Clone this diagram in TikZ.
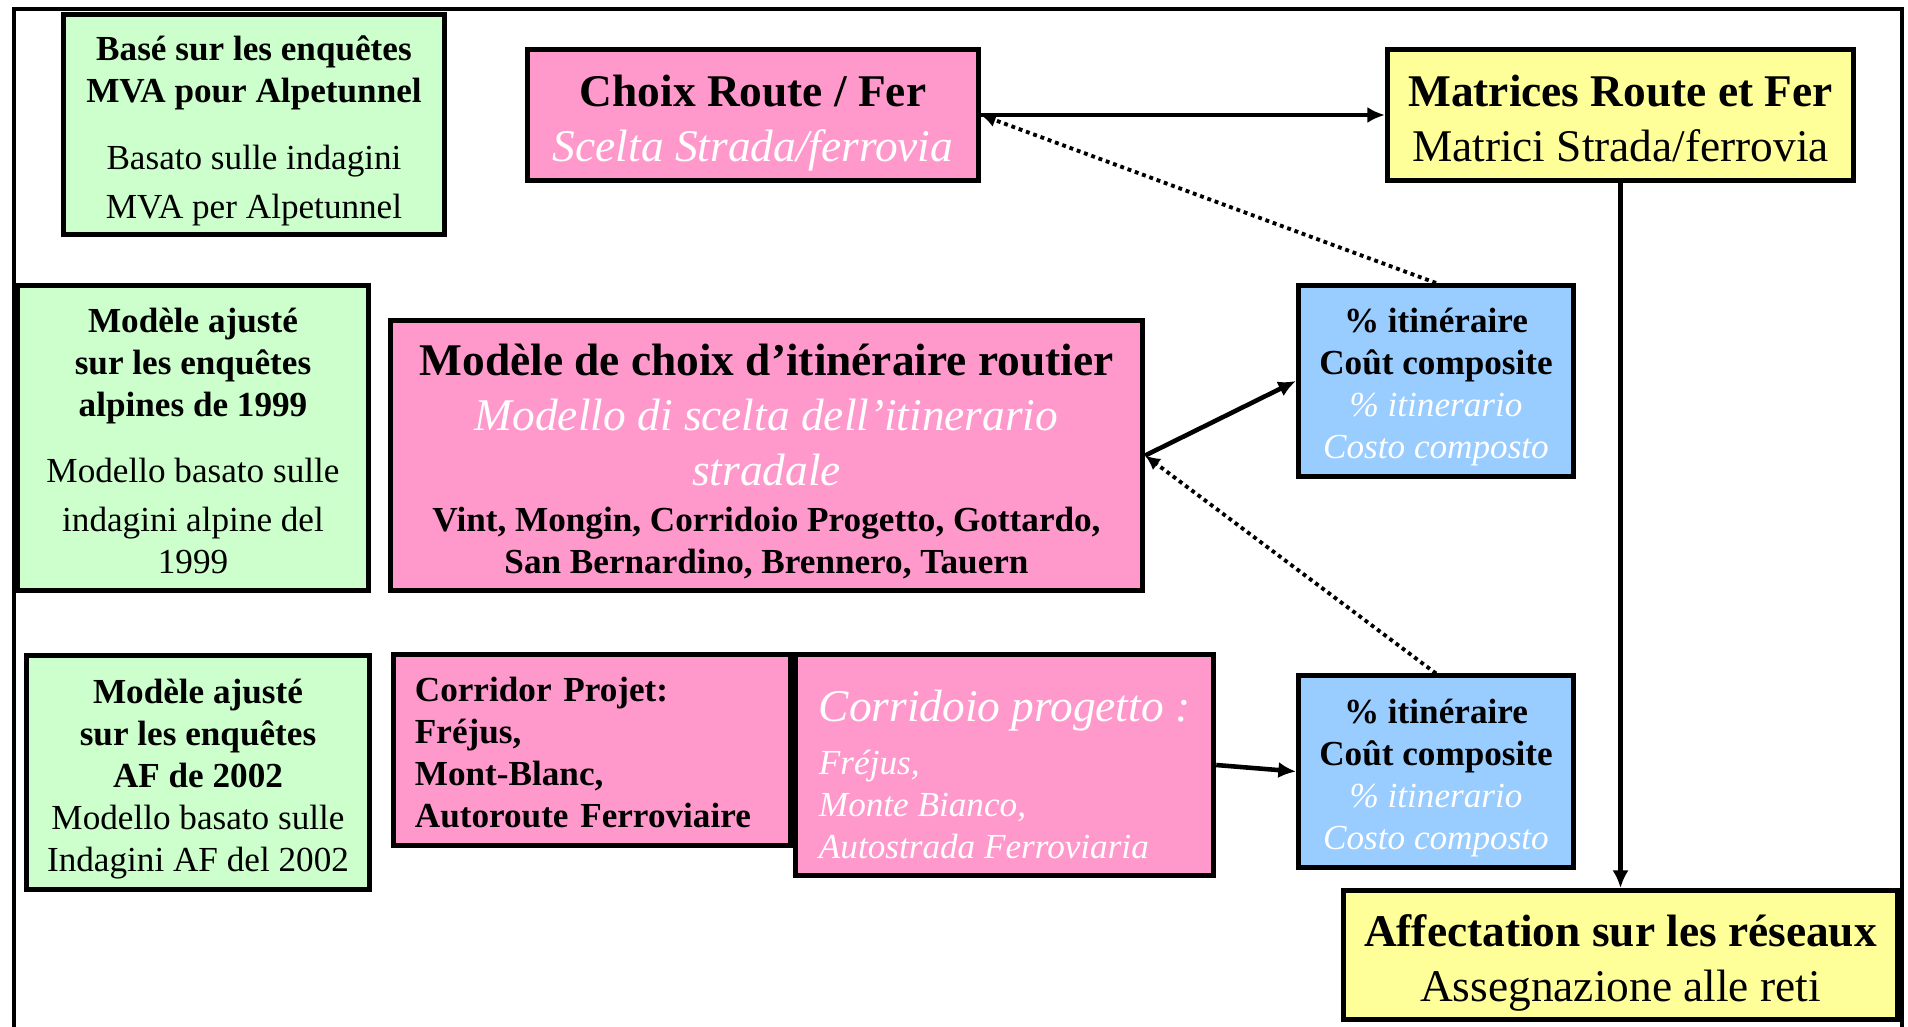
\documentclass[tikz,border=0pt]{standalone}
\usepackage{fontspec}
\setmainfont{Liberation Serif}
\usetikzlibrary{arrows.meta,positioning}

\definecolor{vertclair}{RGB}{204,255,204}
\definecolor{rose}{RGB}{255,153,204}
\definecolor{jaune}{RGB}{255,255,153}
\definecolor{bleu}{RGB}{153,204,255}

\newcommand{\smalltxt}{\fontsize{10}{11.95}\selectfont}
\newcommand{\bigtxt}{\fontsize{12.9}{15.6}\selectfont}
% struts for first and last line
\newcommand{\hautligne}{\rule{0pt}{11.7pt}}
\newcommand{\hautgrand}{\rule{0pt}{14pt}}
\newcommand{\basligne}{\rule[-3.2pt]{0pt}{3.2pt}}

\begin{document}
\begin{tikzpicture}[x=0.01cm,y=-0.01cm]

\tikzset{boite/.style={draw,line width=1.4pt,inner sep=0pt,align=center,font=\smalltxt},
greenbox/.style={boite,fill=vertclair},
pinkbox/.style={boite,fill=rose},
yellowbox/.style={boite,fill=jaune},
bluebox/.style={boite,fill=bleu,minimum width=2.75cm,minimum height=1.91cm},
flow/.style={line width=1.3pt,-{Latex[length=5pt,width=4.6pt]}},
feedback/.style={line width=1.1pt,dash pattern=on 1.1pt off 1.1pt,-{Latex[length=4.2pt,width=4pt]}}}

\useasboundingbox (0,0) rectangle (1908,1027);

% outer frame
\draw[line width=1.4pt] (14,1030) -- (14,9) -- (1902,9) -- (1902,1030);

% survey nodes
\node[greenbox,minimum width=3.81cm,minimum height=2.2cm] (mva) at (254,124.5)
  {\hautligne\textbf{Basé sur les enquêtes}\\\textbf{MVA pour Alpetunnel}\\[7pt]Basato sulle indagini\\[2pt]MVA per Alpetunnel\basligne};
\node[greenbox,minimum width=3.51cm,minimum height=3.05cm] (alpine) at (193,438)
  {\hautligne\textbf{Modèle ajusté}\\\textbf{sur les enquêtes}\\\textbf{alpines de 1999}\\[7pt]Modello basato sulle\\[2pt]indagini alpine del\\1999\basligne};
\node[greenbox,minimum width=3.43cm,minimum height=2.34cm] (af) at (198,772.5)
  {\hautligne\textbf{Modèle ajusté}\\\textbf{sur les enquêtes}\\\textbf{AF de 2002}\\Modello basato sulle\\Indagini AF del 2002\basligne};

% model nodes
\node[pinkbox,minimum width=4.51cm,minimum height=1.31cm] (choix) at (753,115)
  {{\bigtxt\bfseries\hautgrand Choix Route / Fer}\\[3.7pt]{\bigtxt\itshape\color{white}Scelta Strada/ferrovia\basligne}};
\node[yellowbox,minimum width=4.66cm,minimum height=1.31cm] (matrices) at (1620.5,115)
  {{\bigtxt\bfseries\hautgrand Matrices Route et Fer}\\[3.7pt]{\bigtxt Matrici Strada/ferrovia\basligne}};
\node[pinkbox,minimum width=7.52cm,minimum height=2.7cm] (modele) at (766.5,455.5)
  {{\bigtxt\bfseries\hautgrand Modèle de choix d’itinéraire routier}\\[3.7pt]{\bigtxt\itshape\color{white}Modello di scelta dell’itinerario}\\[3.7pt]{\bigtxt\itshape\color{white}stradale}\\[1pt]\textbf{Vint, Mongin, Corridoio Progetto, Gottardo,}\\\textbf{San Bernardino, Brennero, Tauern}\basligne};
\node[pinkbox,align=left,minimum width=3.97cm,minimum height=1.91cm,inner xsep=0.215cm,text width=3.54cm] (corrFR) at (592,750)
  {\hautligne\textbf{Corridor Projet:}\\\textbf{Fréjus,}\\\textbf{Mont-Blanc,}\\\textbf{Autoroute Ferroviaire}\basligne};
\node[pinkbox,align=left,font=\smalltxt\itshape,text=white,minimum width=4.18cm,minimum height=2.21cm,anchor=north west] (corrIT) at (corrFR.north east)
  {{\bigtxt\rule{0pt}{17.3pt}Corridoio progetto :}\\[3.1pt]Fréjus,\\Monte Bianco,\\Autostrada Ferroviaria\basligne};

% result nodes
\node[bluebox] (itin) at (1436,381)
  {\hautligne\textbf{\% itinéraire}\\\textbf{Coût composite}\\{\itshape\color{white}\% itinerario}\\{\itshape\color{white}Costo composto}\basligne};
\node[bluebox] (itin2) at (1436,771.5)
  {\hautligne\textbf{\% itinéraire}\\\textbf{Coût composite}\\{\itshape\color{white}\% itinerario}\\{\itshape\color{white}Costo composto}\basligne};
\node[yellowbox,minimum width=5.54cm,minimum height=1.29cm] (affect) at (1620.5,955)
  {{\bigtxt\bfseries\hautgrand Affectation sur les réseaux}\\[3.7pt]{\bigtxt Assegnazione alle reti\basligne}};

% Edges
\draw[flow] (choix.east) -- (matrices.west);
\draw[flow] (matrices.south) -- (affect.north);
\draw[flow] (modele.east) -- (itin.west);
\draw[flow] (corrIT.east) -- (itin2.west);
\draw[feedback] (itin.north) -- (choix.east);
\draw[feedback] (itin2.north) -- (modele.east);

\end{tikzpicture}
\end{document}
